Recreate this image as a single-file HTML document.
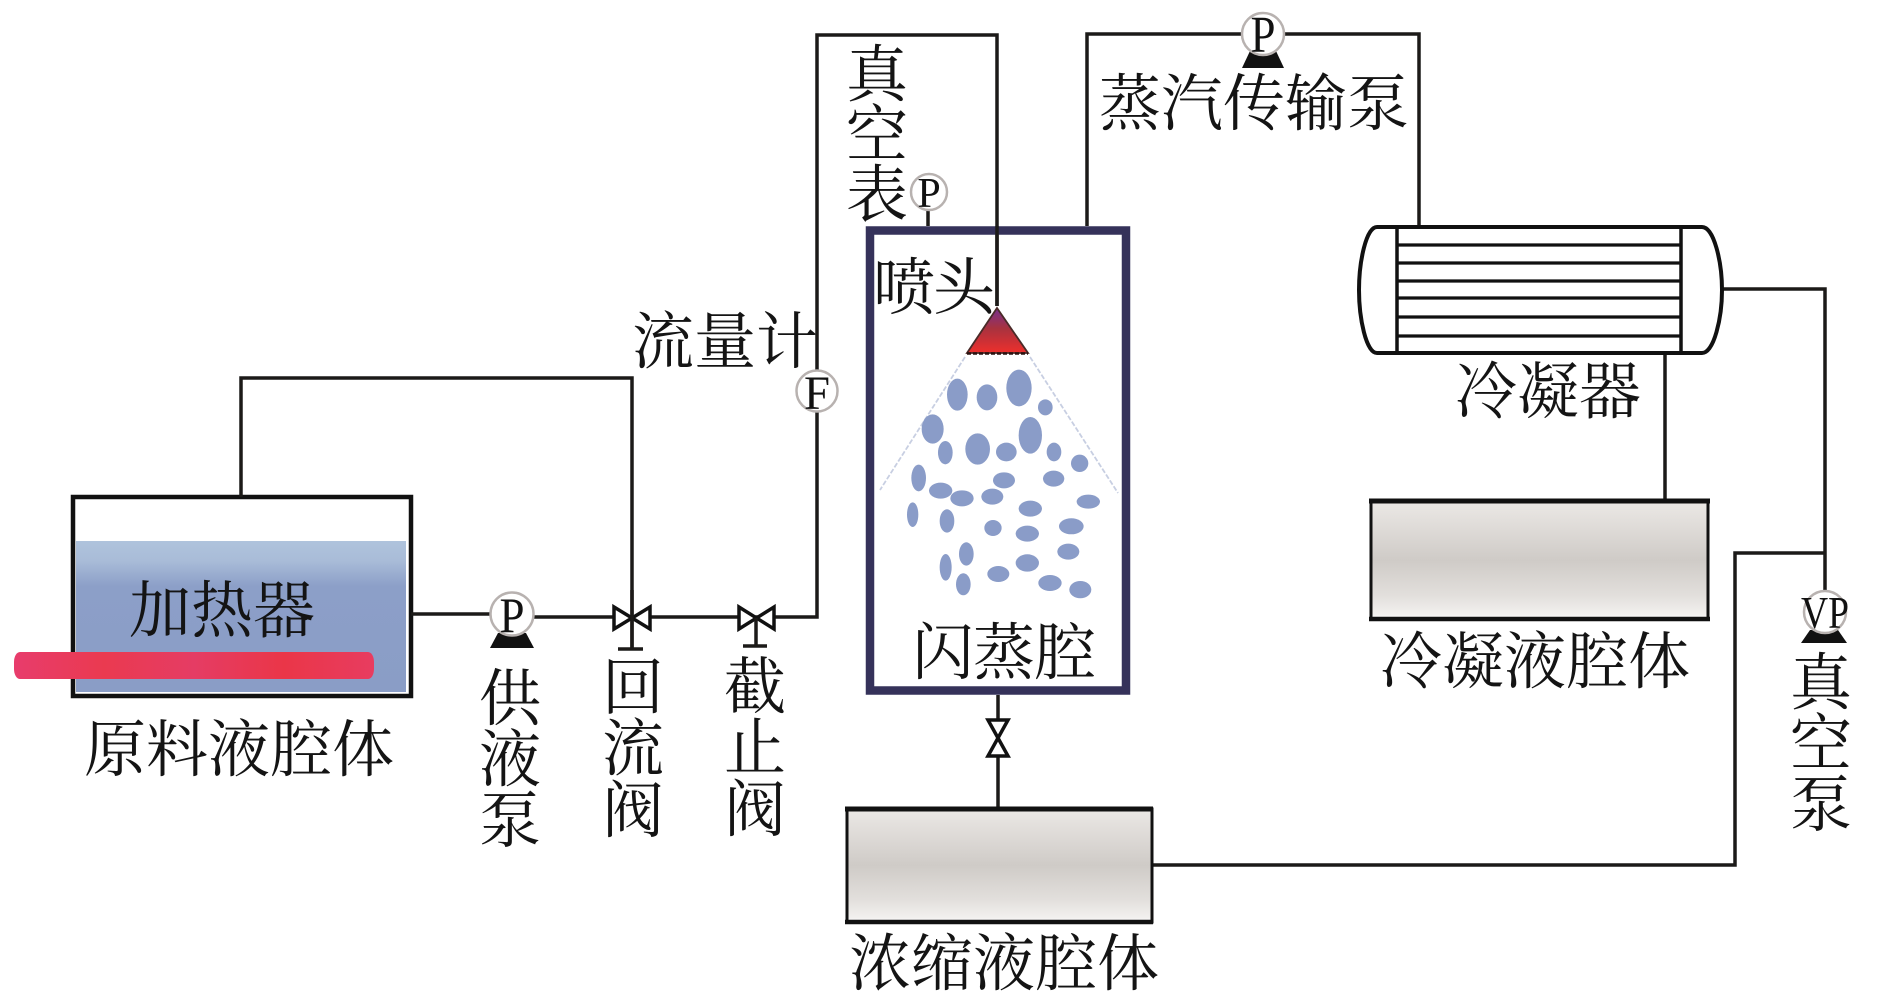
<!DOCTYPE html>
<html lang="zh">
<head>
<meta charset="utf-8">
<title>闪蒸系统示意图</title>
<style>
html,body{margin:0;padding:0;background:#fff;}
svg{display:block;}
.t{font-family:"Liberation Serif","Noto Serif CJK SC",serif;font-size:62px;fill:#141414;}
.l{font-family:"Liberation Serif",serif;fill:#111;text-anchor:middle;}
.p{fill:none;stroke:#1c1a18;stroke-width:3.5;}
.g{fill:#fff;stroke:#b8b2b0;stroke-width:2.5;}
.v{fill:#fff;stroke:#111;stroke-width:3.5;}
</style>
</head>
<body>
<svg width="1890" height="991" viewBox="0 0 1890 991" xmlns="http://www.w3.org/2000/svg">
<defs>
<linearGradient id="w" x1="0" y1="0" x2="0" y2="1">
<stop offset="0" stop-color="#afc3dc"/><stop offset=".13" stop-color="#a9bcd8"/><stop offset=".3" stop-color="#8c9fc8"/><stop offset="1" stop-color="#8a9dc6"/>
</linearGradient>
<linearGradient id="h" x1="0" y1="0" x2="1" y2="0">
<stop offset="0" stop-color="#e83c6c"/><stop offset=".25" stop-color="#ea3a50"/><stop offset=".5" stop-color="#e53c64"/><stop offset=".75" stop-color="#ea3648"/><stop offset="1" stop-color="#e83c60"/>
</linearGradient>
<linearGradient id="s" x1="0" y1="0" x2="0" y2="1">
<stop offset="0" stop-color="#ebe8e5"/><stop offset=".5" stop-color="#cfcbc7"/><stop offset=".8" stop-color="#e2dfdc"/><stop offset=".96" stop-color="#f2f0ee"/><stop offset="1" stop-color="#fff"/>
</linearGradient>
<linearGradient id="n" x1="0" y1="0" x2="0" y2="1">
<stop offset="0" stop-color="#76308f"/><stop offset=".45" stop-color="#a8323f"/><stop offset="1" stop-color="#ee2f2c"/>
</linearGradient>
</defs>

<!-- feed tank -->
<rect x="76" y="541" width="330" height="151" fill="url(#w)"/>
<rect x="73" y="497" width="338" height="199" fill="none" stroke="#111" stroke-width="4.5"/>
<rect x="14" y="652" width="360" height="27" rx="6" ry="10" fill="url(#h)"/>

<!-- pipes -->
<path class="p" d="M241 497V378H632V649"/>
<path class="p" d="M411 614H492"/>
<path class="p" d="M532 617H817V35H997V306"/>
<path class="p" d="M1087 226V34H1419V226"/>
<path class="p" d="M1722 289H1825V592"/>
<path class="p" d="M1825 553H1735V865H1153"/>
<path class="p" d="M1665 353V500"/>
<path class="p" d="M998 695V807"/>
<path class="p" d="M928 205V226" stroke-width="2.5"/>

<!-- valves -->
<path class="v" d="M614 607V629L650 607V629Z"/>
<path class="p" d="M632 590V649M618 649H643"/>
<path class="v" d="M739 607V629L774 607V629Z"/>
<path class="p" d="M756 618V646M743 646H767"/>
<path class="v" d="M988 720H1008L988 756H1008Z"/>

<!-- pump feed -->
<path d="M498 633H526L534 648H490Z" fill="#111"/>
<circle class="g" cx="512" cy="614" r="21.5"/>
<text class="l" x="512" y="632" font-size="50" textLength="25" lengthAdjust="spacingAndGlyphs">P</text>

<!-- flow meter -->
<circle class="g" cx="817" cy="391" r="20.5"/>
<text class="l" x="817" y="409" font-size="48" textLength="26" lengthAdjust="spacingAndGlyphs">F</text>

<!-- vacuum gauge -->
<circle class="g" cx="929" cy="192" r="18"/>
<text class="l" x="929" y="207" font-size="42">P</text>

<!-- vapor pump -->
<path d="M1250 51H1276L1284 68H1242Z" fill="#111"/>
<ellipse class="g" cx="1263" cy="34" rx="21" ry="21"/>
<text class="l" x="1263" y="52" font-size="52" textLength="25" lengthAdjust="spacingAndGlyphs">P</text>

<!-- vacuum pump -->
<path d="M1810 630H1838L1847 643H1801Z" fill="#111"/>
<circle class="g" cx="1825" cy="612" r="21"/>
<text class="l" x="1825" y="628" font-size="46" textLength="48" lengthAdjust="spacingAndGlyphs">VP</text>

<!-- flash chamber -->
<rect x="870" y="230.500" width="256" height="460" fill="none" stroke="#35325a" stroke-width="8.500"/>
<path d="M997 226V306" stroke="#1c1a18" stroke-width="3.500"/>
<path d="M965 357L880 490M1030 357L1118 493" stroke="#c8cfe2" stroke-width="1.800" stroke-dasharray="5 2" fill="none"/>
<path d="M997 308L967 353H1028Z" fill="url(#n)" stroke="#4a2a28" stroke-width="1.800"/>
<path d="M967 353.500H1028" stroke="#2a1210" stroke-width="2.500" stroke-dasharray="4 2"/>
<g fill="#8a9cc8" transform="translate(880 300) scale(.3333)">
<ellipse cx="232" cy="284" rx="31" ry="48"/>
<ellipse cx="321" cy="292" rx="31" ry="39"/>
<ellipse cx="417" cy="264" rx="38" ry="55"/>
<ellipse cx="496" cy="322" rx="22" ry="24"/>
<ellipse cx="158" cy="387" rx="33" ry="44"/>
<ellipse cx="196" cy="458" rx="22" ry="35"/>
<ellipse cx="293" cy="447" rx="37" ry="47"/>
<ellipse cx="379" cy="456" rx="31" ry="28"/>
<ellipse cx="451" cy="406" rx="35" ry="55"/>
<ellipse cx="522" cy="456" rx="22" ry="28"/>
<ellipse cx="599" cy="490" rx="26" ry="26"/>
<ellipse cx="116" cy="534" rx="22" ry="40"/>
<ellipse cx="182" cy="572" rx="35" ry="24"/>
<ellipse cx="246" cy="595" rx="35" ry="24"/>
<ellipse cx="372" cy="541" rx="33" ry="24"/>
<ellipse cx="337" cy="590" rx="33" ry="24"/>
<ellipse cx="521" cy="536" rx="32" ry="24"/>
<ellipse cx="451" cy="626" rx="35" ry="24"/>
<ellipse cx="625" cy="605" rx="35" ry="21"/>
<ellipse cx="98" cy="644" rx="17" ry="37"/>
<ellipse cx="201" cy="663" rx="22" ry="35"/>
<ellipse cx="339" cy="684" rx="26" ry="24"/>
<ellipse cx="442" cy="701" rx="35" ry="24"/>
<ellipse cx="574" cy="679" rx="37" ry="24"/>
<ellipse cx="565" cy="755" rx="33" ry="24"/>
<ellipse cx="259" cy="762" rx="22" ry="35"/>
<ellipse cx="197" cy="802" rx="18" ry="40"/>
<ellipse cx="250" cy="853" rx="22" ry="33"/>
<ellipse cx="355" cy="822" rx="33" ry="24"/>
<ellipse cx="442" cy="789" rx="35" ry="26"/>
<ellipse cx="510" cy="849" rx="35" ry="24"/>
<ellipse cx="601" cy="869" rx="33" ry="26"/>
</g>

<!-- condenser -->
<path d="M1377 227H1702C1714 227 1722 262 1722 290C1722 318 1714 353 1702 353H1377C1366 353 1359 318 1359 290C1359 262 1366 227 1377 227Z" fill="#fff" stroke="#111" stroke-width="4"/>
<path d="M1397 227V353M1681 227V353" stroke="#111" stroke-width="3.500" fill="none"/>
<path d="M1397 245H1681M1397 263H1681M1397 281H1681M1397 298H1681M1397 317H1681M1397 336H1681" stroke="#111" stroke-width="3.200" fill="none"/>

<!-- condensate tank -->
<rect x="1371" y="502" width="337" height="117" fill="url(#s)" stroke="#111" stroke-width="3"/>
<path d="M1369 501H1710" stroke="#111" stroke-width="5"/>
<path d="M1369 619H1710" stroke="#111" stroke-width="4.500"/>

<!-- concentrate tank -->
<rect x="847" y="809" width="305" height="113" fill="url(#s)" stroke="#111" stroke-width="3"/>
<path d="M845 809H1153" stroke="#111" stroke-width="5"/>
<path d="M845 922H1153" stroke="#111" stroke-width="4.500"/>

<!-- labels -->
<text class="t" x="129" y="632">加热器</text>
<text class="t" x="84" y="771">原料液腔体</text>
<text class="t"><tspan x="479" y="720">供</tspan><tspan x="479" y="781">液</tspan><tspan x="479" y="842">泵</tspan></text>
<text class="t"><tspan x="602" y="709">回</tspan><tspan x="602" y="770">流</tspan><tspan x="602" y="832">阀</tspan></text>
<text class="t"><tspan x="724" y="708">截</tspan><tspan x="724" y="769">止</tspan><tspan x="724" y="831">阀</tspan></text>
<text class="t" x="632" y="363">流量计</text>
<text class="t"><tspan x="846" y="96">真</tspan><tspan x="846" y="156">空</tspan><tspan x="846" y="216">表</tspan></text>
<text class="t" x="873" y="309" letter-spacing="-2">喷头</text>
<text class="t" x="912" y="674" letter-spacing="-1">闪蒸腔</text>
<text class="t" x="1099" y="125">蒸汽传输泵</text>
<text class="t" x="1455" y="413">冷凝器</text>
<text class="t" x="1380" y="683">冷凝液腔体</text>
<text class="t"><tspan x="1790" y="704">真</tspan><tspan x="1790" y="765">空</tspan><tspan x="1790" y="826">泵</tspan></text>
<text class="t" x="849" y="985">浓缩液腔体</text>
</svg>
</body>
</html>
